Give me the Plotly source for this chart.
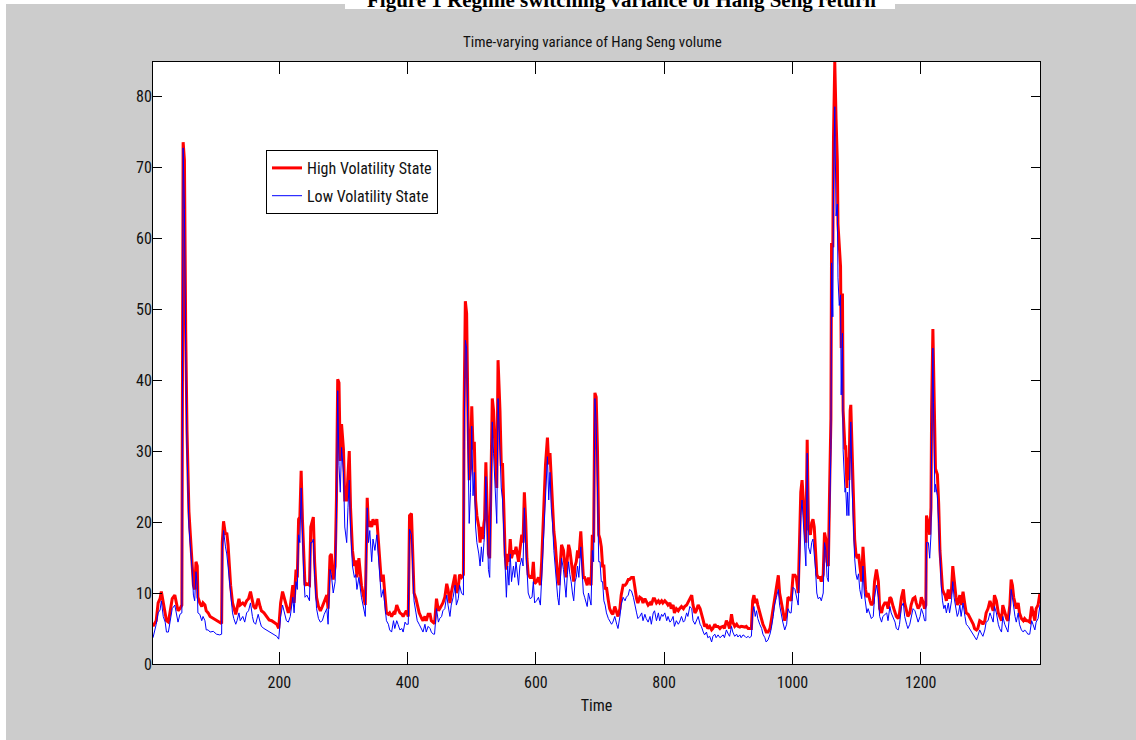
import plotly.graph_objects as go

# ---------------- data ----------------
time_steps = [
    3, 8, 11, 14, 16, 19, 22, 24, 27, 30, 33, 37, 40, 42, 45, 48, 50, 52, 54, 56,
    59, 62, 64, 66, 68, 70, 72, 73, 76, 79, 81, 84, 86, 89, 92, 97, 102, 107, 110, 111,
    113, 116, 118, 120, 122, 124, 127, 129, 132, 134, 137, 139, 143, 146, 149, 152, 155, 158, 160, 163,
    167, 170, 172, 176, 180, 184, 188, 192, 196, 199, 202, 205, 208, 211, 214, 217, 221, 223, 226, 228,
    230, 232, 234, 236, 238, 240, 243, 247, 249, 251, 253, 255, 258, 261, 264, 267, 270, 274, 276, 279,
    281, 284, 287, 289, 291, 293, 295, 297, 300, 302, 305, 307, 309, 311, 314, 317, 319, 321, 324, 328,
    331, 334, 337, 339,
    341, 344, 346, 349, 352, 354, 357, 359, 362, 365, 367, 370, 372, 375, 378, 380, 383, 385, 388, 391,
    393, 396, 398, 401, 403, 406, 408, 410, 413, 415, 418, 422, 424, 427, 429, 432, 435, 437, 440, 442,
    445, 448, 450, 453, 455, 458, 461, 463, 466, 468, 471, 474, 476, 479, 481, 484, 487, 488, 490, 492,
    494, 496, 498, 500, 502, 504, 506, 508, 511, 513, 515, 517, 519, 520, 522, 524, 526, 528, 530, 532,
    534, 537, 539, 541, 544, 546, 548, 550, 552, 554, 556, 558, 560, 562, 565, 567, 569, 571, 573, 575,
    578, 580, 582, 584, 586, 588, 591, 594, 596, 598, 601, 604, 607, 609, 611, 613, 615, 618, 620, 622,
    624, 626, 628, 630, 632, 634, 636, 638, 640, 643, 645, 647, 649, 651, 653, 655, 657, 659, 661, 663,
    665, 667, 670, 672, 674, 676, 678, 680, 682, 684, 686, 688, 690, 692, 694,
    696, 698, 700, 702, 704, 706, 708, 710, 713, 715, 718, 720, 723, 726, 728, 731, 733, 736, 739, 741,
    744, 746, 749, 752, 754, 757, 759, 762, 765, 767, 770, 772, 775, 778, 780, 783, 785, 788, 791, 793,
    796, 798, 801, 804, 806, 809, 811, 814, 816, 819, 822, 824, 827, 830, 832, 835, 837, 840, 843, 845,
    848, 850, 853, 856, 858, 861, 863, 866, 868, 871, 874, 876, 879, 881, 884, 887, 889, 892, 894, 897,
    900, 902, 905, 907, 910, 913, 915, 918, 920, 923, 926, 928, 931, 933, 936, 938, 940, 942, 944, 946,
    949, 952, 954, 957, 959, 962, 965, 967, 970, 972, 975, 978, 980, 983, 985, 988, 991, 993, 996, 998,
    1001, 1004, 1006, 1009, 1011, 1013, 1015, 1017, 1019, 1021, 1023, 1025, 1028, 1030, 1032, 1034, 1036, 1038, 1040,
    1043, 1045, 1048, 1050, 1052, 1054, 1056, 1058, 1060, 1061, 1063, 1064, 1066, 1068, 1070, 1071, 1073, 1075, 1076, 1078,
    1079, 1082, 1083, 1085, 1086, 1088, 1090, 1091, 1093, 1095, 1097, 1099, 1101, 1103, 1105, 1108, 1110, 1112, 1114, 1116,
    1118, 1121, 1123, 1126, 1128, 1131, 1134, 1136, 1139, 1141, 1144, 1147, 1149, 1152, 1154, 1157, 1160, 1162, 1165, 1167,
    1170, 1173, 1175, 1178, 1180, 1183, 1185, 1188, 1191, 1193, 1196, 1199, 1201, 1204, 1206, 1208, 1209, 1211, 1212, 1214,
    1216, 1217, 1219, 1220, 1222, 1223, 1226, 1228, 1230, 1232, 1234, 1236, 1238, 1240, 1243, 1245, 1248, 1250, 1252, 1255,
    1257, 1259, 1261, 1263, 1266, 1269, 1271, 1274, 1276, 1279, 1282, 1284, 1287, 1289, 1292, 1295, 1297, 1300, 1302, 1305,
    1308, 1310, 1313, 1315, 1318, 1321, 1323, 1326, 1328, 1331, 1334, 1336, 1339, 1341, 1343, 1345, 1347, 1349, 1352, 1354,
    1357, 1360, 1362, 1365, 1367, 1370, 1373, 1375, 1378, 1380, 1383, 1386,
]

high_state = [
    5.3, 6.1, 8.6, 9.2, 10.2, 8.6, 7.2, 6.1, 5.9, 7.8, 9.2, 9.7, 8.3, 7.5, 7.8, 8.3, 73.5, 71.0, 46.7, 33.0,
    21.5, 17.6, 14.4, 11.1, 10.5, 14.4, 13.8, 9.4, 8.6, 8.1, 8.6, 8.3, 7.5, 7.2, 6.7, 6.4, 6.2, 5.9, 5.7, 17.1,
    20.1, 18.2, 18.5, 16.8, 13.8, 11.1, 8.6, 7.8, 7.0, 7.8, 9.2, 8.3, 8.6, 8.3, 8.9, 9.2, 10.2, 8.9, 8.1, 7.8,
    9.2, 8.1, 7.5, 7.2, 6.7, 6.2, 6.1, 5.9, 5.6, 5.0, 8.6, 10.2, 9.2, 8.1, 7.2, 8.1, 11.1, 8.6, 13.3, 12.2,
    20.4, 20.7, 27.2, 20.4, 14.4, 11.1, 11.3, 11.1, 19.3, 20.1, 20.7, 14.4, 9.4, 8.1, 7.5, 8.1, 8.9, 9.7, 7.8, 15.2,
    15.5, 11.9, 13.8, 23.1, 40.1, 39.6, 28.6, 33.8, 30.2, 23.1, 23.1, 27.0, 30.0, 22.0, 16.0, 13.8, 14.6, 12.2, 14.9, 11.1,
    9.7, 8.3, 23.4, 19.3,
    20.1, 19.3, 20.4, 19.6, 20.4, 17.6, 13.8, 11.6, 12.6, 8.6, 7.2, 7.0, 7.2, 6.7, 7.2, 7.0, 8.3, 7.8, 7.2, 7.0,
    6.7, 7.2, 7.5, 6.7, 20.9, 21.2, 14.9, 10.0, 9.2, 8.3, 7.2, 6.4, 6.1, 6.7, 6.1, 7.0, 7.0, 6.1, 5.9, 5.7,
    9.2, 7.5, 7.8, 8.3, 8.6, 9.4, 11.3, 10.5, 8.6, 10.0, 11.3, 12.6, 10.0, 10.8, 12.6, 12.2, 12.6, 35.7, 51.1, 49.4,
    35.7, 25.9, 27.5, 36.3, 30.2, 31.3, 23.1, 20.9, 19.3, 17.1, 19.3, 17.6, 19.8, 20.4, 28.4, 20.4, 15.5, 14.9, 24.8, 37.4,
    35.7, 27.5, 24.8, 42.8, 35.7, 28.1, 28.1, 22.0, 15.5, 13.3, 15.5, 14.4, 17.6, 14.9, 16.0, 15.5, 16.5, 15.5, 14.4, 16.0,
    18.2, 17.1, 24.2, 20.4, 14.9, 12.6, 12.2, 12.2, 14.4, 11.3, 11.6, 12.2, 11.1, 14.4, 19.3, 22.5, 28.1, 31.9, 28.1, 29.7,
    25.3, 22.5, 18.7, 17.1, 13.8, 12.2, 11.1, 13.8, 16.8, 16.0, 14.4, 12.2, 14.9, 16.8, 16.0, 14.4, 12.6, 11.6, 13.8, 14.4,
    16.0, 14.9, 18.7, 16.0, 12.2, 12.2, 11.6, 11.1, 12.2, 11.6, 11.1, 18.2, 17.1, 38.2, 37.6,
    30.2, 18.2, 17.6, 16.5, 13.8, 13.8, 10.5, 10.8, 8.9, 7.8, 7.2, 7.0, 8.1, 7.2, 6.7, 7.8, 9.7, 11.1, 11.1, 11.3,
    11.9, 11.9, 12.2, 12.2, 10.8, 9.2, 8.6, 9.4, 9.2, 8.6, 9.2, 8.9, 8.3, 8.6, 8.3, 9.2, 9.2, 8.6, 8.9, 8.6,
    8.9, 8.6, 8.9, 8.6, 8.3, 8.6, 7.8, 8.3, 7.2, 7.8, 7.5, 7.8, 8.1, 7.8, 8.1, 8.3, 8.6, 9.2, 9.7, 8.3,
    7.2, 7.5, 8.3, 7.8, 7.2, 6.1, 5.3, 5.6, 5.0, 5.3, 4.8, 5.0, 5.6, 5.3, 5.3, 5.0, 5.2, 5.3, 5.0, 6.1,
    5.6, 5.0, 7.0, 5.9, 5.3, 5.6, 5.3, 5.2, 5.3, 5.2, 5.2, 5.3, 5.0, 5.0, 5.0, 8.9, 9.7, 8.6, 9.2, 8.3,
    7.2, 6.4, 5.6, 5.0, 4.5, 4.5, 5.0, 6.1, 7.8, 9.4, 10.5, 12.5, 10.0, 8.3, 7.2, 6.1, 7.2, 9.4, 9.2, 8.9,
    12.5, 12.5, 12.2, 10.0, 17.1, 24.2, 25.9, 23.7, 20.4, 17.1, 31.6, 19.3, 18.2, 19.9, 20.4, 19.3, 16.0, 12.6, 12.2,
    12.2, 11.6, 12.6, 18.5, 17.6, 14.4, 13.8, 24.8, 34.6, 59.3, 58.7, 74.0, 84.8, 76.8, 70.8, 62.0, 58.7, 56.0, 44.5, 52.2,
    35.7, 30.2, 30.8, 24.8, 29.1, 25.9, 35.7, 36.5, 30.2, 22.0, 17.6, 15.5, 14.9, 15.5, 13.8, 11.6, 16.5, 12.6, 10.5, 9.4,
    10.0, 8.9, 8.3, 8.6, 11.6, 13.3, 11.6, 7.8, 7.2, 8.1, 8.6, 8.6, 7.8, 9.4, 9.2, 8.1, 7.2, 6.7, 6.4, 7.2,
    9.4, 10.5, 8.6, 7.2, 6.7, 7.2, 8.3, 9.2, 9.4, 8.6, 7.8, 8.3, 9.4, 8.6, 7.8, 8.3, 20.9, 20.1, 19.8, 18.2,
    22.0, 35.7, 47.2, 42.3, 28.6, 27.5, 26.7, 22.6, 16.0, 13.3, 10.5, 10.0, 9.7, 8.9, 10.5, 9.2, 10.5, 13.8, 11.6, 9.4,
    8.3, 8.9, 9.7, 8.3, 10.2, 8.3, 7.2, 7.0, 6.7, 6.1, 5.6, 5.0, 4.8, 5.0, 6.1, 5.9, 5.6, 6.1, 7.2, 7.8,
    8.9, 8.3, 7.5, 9.7, 8.9, 7.2, 6.7, 6.1, 8.3, 7.2, 6.4, 6.1, 8.3, 11.9, 11.1, 9.4, 8.3, 7.8, 8.6, 7.2,
    6.4, 6.1, 6.4, 6.1, 6.1, 5.9, 8.1, 7.2, 6.1, 7.8, 8.3, 10.0,
]

low_state = [
    3.7, 5.6, 7.2, 7.6, 8.9, 6.7, 5.9, 4.5, 4.5, 6.1, 7.8, 8.3, 6.7, 5.9, 7.0, 7.2, 72.7, 64.0, 44.0, 30.2,
    19.3, 16.0, 13.3, 9.7, 8.9, 13.0, 11.1, 7.2, 7.0, 6.1, 6.7, 6.1, 4.8, 4.8, 4.5, 4.6, 4.2, 4.1, 4.2, 16.0,
    18.8, 16.5, 15.5, 13.8, 11.6, 9.4, 7.2, 6.4, 5.6, 6.1, 7.2, 6.1, 6.7, 5.9, 7.2, 7.5, 8.6, 6.7, 5.9, 5.6,
    7.0, 5.9, 5.3, 5.0, 4.8, 4.5, 4.4, 4.1, 3.9, 3.5, 6.7, 8.3, 7.2, 6.1, 5.9, 6.7, 9.4, 7.2, 11.6, 10.5,
    18.2, 17.1, 24.8, 17.6, 12.6, 9.4, 9.7, 8.9, 17.1, 17.1, 17.6, 12.6, 7.8, 6.4, 5.9, 6.1, 7.0, 7.8, 5.6, 13.3,
    12.6, 10.0, 11.6, 20.4, 38.5, 28.0, 24.2, 30.5, 27.0, 19.3, 17.1, 22.0, 25.9, 19.3, 13.8, 12.2, 12.6, 10.5, 12.2, 9.4,
    7.8, 6.7, 22.0, 17.1,
    18.8, 14.4, 17.6, 16.0, 18.2, 16.0, 12.6, 9.4, 10.5, 7.2, 6.1, 5.6, 4.8, 4.5, 6.1, 5.0, 6.1, 5.6, 4.8, 5.0,
    4.5, 5.9, 5.6, 5.6, 19.0, 18.2, 13.3, 8.9, 7.2, 6.1, 5.6, 4.8, 4.5, 5.6, 4.5, 5.3, 5.0, 4.5, 4.2, 4.2,
    7.8, 5.9, 6.4, 6.7, 7.5, 7.8, 9.7, 8.3, 6.7, 8.3, 9.4, 11.1, 8.3, 9.2, 11.1, 10.0, 9.7, 30.2, 45.6, 44.5,
    30.8, 19.8, 24.2, 33.5, 23.7, 27.0, 19.3, 17.1, 15.5, 13.8, 16.5, 14.4, 17.1, 18.2, 26.4, 17.6, 13.3, 12.2, 22.0, 34.1,
    29.7, 24.2, 19.8, 37.4, 30.2, 24.8, 23.1, 18.2, 12.2, 9.4, 13.8, 11.1, 15.5, 11.6, 13.8, 12.2, 14.4, 12.2, 11.1, 13.8,
    14.9, 13.8, 22.0, 17.1, 12.2, 10.0, 9.2, 9.4, 11.6, 8.6, 8.9, 9.4, 8.3, 12.2, 17.1, 19.3, 24.8, 29.2, 23.1, 27.0,
    22.0, 19.8, 16.0, 13.8, 11.1, 9.4, 8.3, 11.6, 14.9, 13.3, 11.6, 9.4, 12.6, 14.4, 12.6, 11.6, 10.0, 8.9, 11.6, 12.2,
    13.8, 12.2, 16.5, 13.3, 10.0, 9.4, 8.6, 8.1, 10.0, 8.9, 8.3, 16.0, 14.4, 37.4, 34.0,
    24.8, 14.4, 14.4, 11.6, 11.6, 8.9, 8.3, 7.2, 6.4, 6.1, 5.6, 5.9, 6.7, 5.6, 5.0, 6.7, 8.3, 9.4, 8.9, 9.4,
    9.7, 10.5, 10.3, 9.4, 8.3, 7.2, 6.4, 6.7, 7.2, 6.1, 7.0, 6.4, 5.9, 6.7, 5.6, 7.2, 7.5, 6.1, 7.2, 6.1,
    7.0, 6.7, 7.2, 6.1, 6.7, 5.9, 6.1, 6.7, 5.3, 6.1, 5.6, 5.9, 6.7, 5.9, 6.1, 7.2, 6.7, 8.1, 7.8, 6.1,
    5.6, 6.1, 6.7, 5.6, 5.3, 4.5, 4.1, 4.5, 3.7, 3.9, 3.1, 3.9, 4.2, 3.7, 4.1, 3.7, 3.9, 4.1, 3.7, 4.8,
    4.2, 3.9, 5.3, 4.5, 3.9, 4.2, 3.8, 4.1, 3.7, 4.1, 3.9, 3.7, 3.9, 3.7, 3.9, 7.2, 8.1, 6.7, 7.5, 6.4,
    5.6, 5.0, 4.2, 3.7, 3.1, 3.4, 4.2, 5.0, 6.7, 8.3, 9.4, 10.5, 8.3, 6.7, 5.9, 4.8, 5.6, 7.8, 7.2, 7.2,
    10.8, 10.5, 9.4, 8.3, 13.8, 20.9, 23.1, 20.4, 17.1, 13.8, 29.7, 16.5, 15.5, 17.1, 17.6, 15.5, 13.3, 10.0, 9.2,
    9.4, 8.9, 10.0, 17.1, 16.0, 12.2, 11.6, 19.8, 30.2, 56.5, 48.9, 66.8, 78.5, 63.1, 64.8, 54.4, 50.5, 52.0, 37.9, 46.6,
    30.2, 24.2, 24.8, 20.9, 24.2, 20.9, 29.2, 34.1, 24.8, 18.2, 14.9, 12.7, 11.9, 12.7, 10.5, 9.2, 13.8, 10.0, 8.3, 7.2,
    7.8, 7.0, 6.4, 6.7, 9.4, 11.1, 9.4, 6.7, 5.9, 6.7, 7.0, 7.2, 6.1, 8.1, 7.2, 6.4, 5.9, 5.0, 4.8, 5.6,
    8.1, 8.6, 6.7, 5.6, 5.0, 5.6, 6.7, 7.8, 7.5, 6.7, 5.9, 6.7, 7.8, 7.0, 6.1, 6.1, 17.1, 17.1, 17.1, 14.9,
    18.2, 31.3, 44.5, 36.8, 24.2, 25.3, 23.7, 19.8, 13.8, 11.1, 8.9, 7.8, 8.3, 7.2, 8.6, 7.2, 8.9, 11.6, 9.4, 7.8,
    6.7, 7.2, 8.3, 6.7, 8.6, 6.7, 5.6, 5.3, 5.0, 4.5, 4.1, 3.7, 3.4, 3.9, 4.8, 4.2, 3.9, 4.8, 5.9, 6.1,
    7.2, 6.7, 5.9, 8.1, 7.2, 5.6, 5.0, 4.5, 6.7, 5.6, 4.8, 4.5, 7.2, 10.5, 9.4, 7.8, 6.7, 5.9, 7.2, 5.6,
    4.8, 4.5, 4.8, 4.5, 4.2, 4.2, 6.1, 5.6, 4.8, 5.9, 6.4, 8.3,
]

x_ticks = [200, 400, 600, 800, 1000, 1200]
y_ticks = [0, 10, 20, 30, 40, 50, 60, 70, 80]

assert len(time_steps) == len(high_state) == len(low_state), (
    len(time_steps), len(high_state), len(low_state))

# ---------------- figure ----------------
W, H = 1136, 740
L, R, T, B = 153, 1040, 62, 664          # plot-area pixel box
PW, PH = R - L, B - T


def px(xp):
    return (xp - L) / PW


def py(yp):
    return (B - yp) / PH


FONT = "Roboto Condensed, Liberation Sans Narrow, Arial Narrow, Liberation Sans, Arial, sans-serif"
TXT = "#111111"

fig = go.Figure()
fig.add_trace(go.Scatter(
    x=time_steps, y=high_state, mode="lines", name="High Volatility State",
    line=dict(color="#ff0000", width=3), legendgroup="h"))
fig.add_trace(go.Scatter(
    x=time_steps, y=low_state, mode="lines", name="Low Volatility State",
    line=dict(color="#0000ff", width=1), legendgroup="l"))

axis_common = dict(
    showgrid=False, zeroline=False, showline=True, linecolor="black", linewidth=1,
    mirror="ticks", ticks="inside", tickcolor="black", tickwidth=1,
    tickfont=dict(family=FONT, size=16, color=TXT),
)

fig.update_layout(
    width=W, height=H,
    margin=dict(l=L, r=W - R, t=T, b=H - B, pad=0),
    paper_bgcolor="#cccccc", plot_bgcolor="white",
    showlegend=True,
    legend=dict(
        x=px(266), y=py(150), xanchor="left", yanchor="top",
        bgcolor="white", bordercolor="black", borderwidth=1,
        font=dict(family=FONT, size=16, color=TXT),
        tracegroupgap=4,
    ),
    xaxis=dict(range=[3, 1386], tickvals=x_ticks, ticklen=12, ticklabelstandoff=4,
               title=dict(text="Time", font=dict(family=FONT, size=16, color=TXT), standoff=8),
               **axis_common),
    yaxis=dict(range=[0, 84.8], tickvals=y_ticks, ticklen=9, ticklabelstandoff=-3, **axis_common),
    shapes=[
        dict(type="rect", xref="paper", yref="paper", x0=px(0), x1=px(W), y0=py(4), y1=py(0),
             fillcolor="white", line=dict(width=0), layer="below"),
        dict(type="rect", xref="paper", yref="paper", x0=px(0), x1=px(6), y0=py(H), y1=py(0),
             fillcolor="white", line=dict(width=0), layer="below"),
        dict(type="rect", xref="paper", yref="paper", x0=px(345), x1=px(895), y0=py(9), y1=py(0),
             fillcolor="white", line=dict(width=0), layer="below"),
    ],
    annotations=[
        dict(text="Time-varying variance of Hang Seng volume", xref="paper", yref="paper",
             x=px(592), y=py(42), xanchor="center", yanchor="middle", showarrow=False,
             font=dict(family=FONT, size=15, color=TXT)),
        dict(text="<b>Figure 1 Regime switching variance of Hang Seng return</b>",
             xref="paper", yref="paper", x=px(621), y=py(0), xanchor="center", yanchor="middle",
             showarrow=False,
             font=dict(family="Liberation Serif, Times New Roman, serif", size=21, color="black")),
    ],
)

fig.write_html(
    "out.html",
    config={"displayModeBar": False},
    post_script="document.body.style.margin='0';document.body.style.overflow='hidden';",
)
